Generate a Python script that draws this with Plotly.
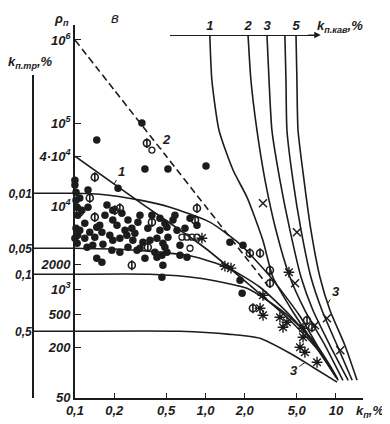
import math
import plotly.graph_objects as go

INK = "#1c1c1c"

# ---------------- axis / tick data ----------------
k_ticks = [0.1, 0.2, 0.5, 1.0, 2.0, 5.0, 10]
k_ticktext = ["0,1", "0,2", "0,5", "1,0", "2,0", "5,0", "10"]
rho_ticks = [1e6, 1e5, 4e4, 1e4, 2000, 1000, 500, 200, 50]
rho_ticktext = ["10<sup>6</sup>", "10<sup>5</sup>", "4·10<sup>4</sup>", "10<sup>4</sup>",
                "2000", "10<sup>3</sup>", "500", "200", "50"]
ktr_ticktext = ["0,01", "0,05", "0,1", "0,5"]
ktr_rho = [14300, 3110, 1514, 311]          # rho level of each k_tr curve
kav_ticktext = ["1", "2", "3", "5"]
ktr_lead_k = [0.0476, 0.1]                  # stub between k_tr scale and rho axis

# ---------------- k_tr curves ----------------
tr001_k = [0.1, 0.155, 0.315, 0.535, 1.08, 1.84, 3.12, 5.30, 7.54, 10.0]
tr001_r = [14300, 13900, 11800, 9710, 6410, 3480, 1430, 472, 184, 87]
tr005_k = [0.1, 0.221, 0.448, 0.79, 1.46, 2.62, 4.44, 6.90, 9.83]
tr005_r = [3110, 3030, 2790, 2490, 1840, 1055, 485, 211, 92]
tr01_k = [0.1, 0.376, 0.907, 2.08, 2.96, 4.44, 6.66, 8.99, 10.2]
tr01_r = [1514, 1514, 1355, 1026, 736, 459, 243, 121, 85]
tr05_k = [0.1, 0.638, 1.54, 2.62, 4.44, 6.66, 10.2]
tr05_r = [311, 311, 286, 256, 169, 115, 76]

# ---------------- lines 1 and 2 ----------------
line1_k = [0.1, 0.315, 1.0, 2.19, 4.44, 7.54, 10.2]
line1_r = [40000, 11100, 3110, 1115, 423, 174, 85]
line2_k = [0.1, 0.2, 0.5, 1.0, 2.0, 3.0]
line2_r = [1e6, 2.5e5, 4e4, 1e4, 2500, 1110]

# ---------------- k_p.kav curves ----------------
kav_r = [1.15e6, 3.3e5, 8.2e4, 2.06e4, 5130, 1390, 557, 211, 80]
kav1_k = [1.08, 1.12, 1.27, 1.63, 2.08, 2.75, 3.29, 4.60, 6.90, 10.4]
kav1_r = [1.15e6, 3.3e5, 8.2e4, 2.7e4, 1.28e4, 3900, 1390, 557, 211, 80]
kav2_k = [2.12, 2.23, 2.48, 2.86, 3.47, 4.44, 5.78, 8.24, 11.3]
kav3_k = [2.96, 3.07, 3.23, 3.72, 4.44, 5.40, 6.66, 8.99, 12.4]
kav4_k = [4.06, 4.14, 4.21, 4.68, 5.40, 6.43, 7.81, 10.2, 13.3]
kav5_k = [4.94, 5.02, 5.12, 5.69, 6.43, 7.54, 8.99, 11.7, 14.5]

# ---------------- measured samples ----------------
filled_k = [0.147, 0.326, 0.344, 0.516, 1.01, 0.214, 0.100, 0.100, 0.126, 0.102, 0.109, 0.176,
            0.126, 0.104, 0.113, 0.195, 0.229, 0.315, 0.389, 0.448, 0.119, 0.147, 0.161, 0.195,
            0.210, 0.255, 0.273, 0.304, 0.362, 0.448, 0.507, 0.100, 0.105, 0.119, 0.185, 0.195,
            0.221, 0.250, 0.278, 0.332, 0.425, 0.472, 0.516, 0.104, 0.124, 0.137, 0.164, 0.192,
            0.221, 0.255, 0.299, 0.410, 0.464, 0.507, 0.147, 0.161, 0.344, 0.425, 0.472, 0.464,
            0.564, 0.584, 0.489, 0.861, 0.606, 0.489, 0.638, 0.638, 0.722, 1.54, 1.94, 1.84,
            1.91, 0.102, 0.105, 0.102, 0.109, 0.130, 0.142, 0.155, 0.170, 0.242, 0.288, 0.376,
            0.315, 0.697, 0.762]
filled_r = [62300, 100000, 27900, 27900, 30300, 16400, 20500, 17900, 15600, 14700, 12500, 10300,
            9700, 9700, 8930, 8930, 8220, 7780, 7780, 7160, 6230, 5570, 4850, 6780,
            5890, 6780, 5420, 6410, 5420, 5130, 5570, 4110, 4470, 4110, 4470, 3890,
            4110, 4470, 3890, 3680, 4110, 3580, 4230, 3580, 3200, 3380, 3480, 2940,
            2790, 3200, 2940, 2790, 2560, 2790, 2360, 2110, 2360, 2430, 1940, 1390,
            6780, 7780, 6230, 5890, 5130, 3200, 3380, 2560, 2430, 3680, 3380, 1280,
            893, 11800, 7780, 5420, 5130, 4850, 4230, 5890, 7780, 5130, 4720, 3890,
            3110, 5420, 7160]
half_k = [0.356, 0.142, 0.130, 0.202, 0.109, 0.142, 0.273, 0.861, 0.832, 0.221, 0.389, 0.362,
          2.19, 2.62, 3.12, 3.12, 2.31, 6.00, 6.55]
half_r = [57300, 22300, 12500, 8930, 8450, 7360, 1940, 9440, 6780, 9440, 6410, 3200,
          2710, 2710, 1690, 1180, 589, 423, 348]
open_k = [0.389, 0.661, 0.722, 0.790, 0.861, 0.762]
open_r = [47200, 4230, 4230, 4230, 4230, 3110]
star_k = [0.940, 1.41, 1.57, 4.36, 2.76, 2.62, 2.76, 3.72, 4.21, 3.93, 5.59, 5.59, 5.30, 5.78, 7.16]
star_r = [4110, 1890, 1790, 1600, 845, 589, 485, 459, 400, 348, 338, 264, 200, 174, 132]
cross_k = [2.76, 5.02, 4.86, 6.90, 8.53, 10.8]
cross_r = [10800, 4850, 1180, 368, 447, 184]

fig = go.Figure()


def curve(xs, ys, dash=None, xaxis="x"):
    fig.add_trace(go.Scatter(x=xs, y=ys, mode="lines", xaxis=xaxis, yaxis="y",
                             line=dict(color=INK, width=1.6, dash=dash, shape="spline",
                                       smoothing=0.6),
                             hoverinfo="skip"))


# stubs from the k_tr scale to the rho axis
for lvl in ktr_rho:
    fig.add_trace(go.Scatter(x=ktr_lead_k, y=[lvl, lvl], mode="lines", xaxis="x3", yaxis="y",
                             line=dict(color=INK, width=1.6), hoverinfo="skip"))

for xs, ys in [(tr001_k, tr001_r), (tr005_k, tr005_r), (tr01_k, tr01_r), (tr05_k, tr05_r),
               (line1_k, line1_r), (kav1_k, kav1_r), (kav2_k, kav_r), (kav3_k, kav_r),
               (kav4_k, kav_r), (kav5_k, kav_r)]:
    curve(xs, ys)
curve(line2_k, line2_r, dash="7px,4px")

mk = dict(mode="markers", cliponaxis=False, hoverinfo="skip")
fig.add_trace(go.Scatter(x=filled_k, y=filled_r, marker=dict(symbol="circle", size=7.5, color=INK), **mk))
fig.add_trace(go.Scatter(x=half_k, y=half_r,
                         marker=dict(symbol="circle-open", size=7, color=INK, line=dict(width=1.6)), **mk))
fig.add_trace(go.Scatter(x=half_k, y=half_r,
                         marker=dict(symbol="line-ns-open", size=7, color=INK, line=dict(width=1.6)), **mk))
fig.add_trace(go.Scatter(x=open_k, y=open_r,
                         marker=dict(symbol="circle-open", size=6, color=INK, line=dict(width=1.3)), **mk))
fig.add_trace(go.Scatter(x=star_k, y=star_r,
                         marker=dict(symbol="asterisk-open", size=9, color=INK, line=dict(width=1.4)), **mk))
fig.add_trace(go.Scatter(x=star_k, y=star_r, marker=dict(symbol="circle", size=4, color=INK), **mk))
fig.add_trace(go.Scatter(x=cross_k, y=cross_r,
                         marker=dict(symbol="x-thin-open", size=8, color=INK, line=dict(width=1.5)), **mk))

# empty traces so the auxiliary axes get their own subplots
fig.add_trace(go.Scatter(x=[], y=[], xaxis="x2", yaxis="y"))
fig.add_trace(go.Scatter(x=[], y=[], xaxis="x", yaxis="y2"))

FONT = "Liberation Sans, Arial, sans-serif"
tfont = dict(family=FONT, size=13, color=INK, style="italic", weight="bold")
common = dict(showgrid=False, zeroline=False, linecolor=INK, tickcolor=INK, automargin=False)

# the page body adds an 8 px offset, so the figure is 8 px smaller and margins shifted
fig.update_layout(
    width=382, height=416, margin=dict(l=25, r=27, t=17, b=26, autoexpand=False),
    paper_bgcolor="white", plot_bgcolor="rgba(0,0,0,0)", showlegend=False,
    xaxis=dict(type="log", domain=[0.127, 1], range=[-1, 1.207], anchor="y",
               showline=True, linewidth=1.6, ticks="inside", ticklen=5, tickwidth=1.3,
               tickvals=k_ticks, ticktext=k_ticktext, tickfont=tfont, **common),
    xaxis2=dict(type="log", domain=[0.415, 0.861], range=[-0.272, 0.854], anchor="free",
                position=0.973, side="top", showline=True, linewidth=1.4, ticks="",
                tickvals=[kav1_k[0], kav2_k[0], kav3_k[0], kav5_k[0]], ticktext=kav_ticktext,
                tickfont=tfont, **common),
    xaxis3=dict(type="log", domain=[0, 0.127], range=[-1.322, -1], anchor="y", visible=False),
    yaxis=dict(type="log", domain=[0, 1], range=[1.69, 6.18], anchor="x",
               showline=True, linewidth=1.6, ticks="inside", ticklen=6, tickwidth=1.3,
               tickvals=rho_ticks, ticktext=rho_ticktext, tickfont=tfont, **common),
    yaxis2=dict(type="log", domain=[0, 0.866], range=[1.69, 5.582], anchor="free", position=0,
                side="left", showline=True, linewidth=1.6, ticks="", ticklabelstandoff=-2,
                tickvals=ktr_rho, ticktext=ktr_ticktext,
                tickfont=dict(family=FONT, size=12, color=INK, style="italic", weight="bold"),
                **common),
)

afont = dict(family=FONT, size=13, color=INK, style="italic", weight="bold")
notes = [
    dict(x=0.248, y=1.021, text="в", font=dict(family=FONT, size=15, color=INK, style="italic")),
    dict(x=0.085, y=1.015, text="ρ<sub>п</sub>", font=afont),
    dict(x=-0.009, y=0.90, text="k<sub>п.тр</sub>,%", font=afont),
    dict(x=1.021, y=-0.035, text="k<sub>п</sub>,%", font=afont),
    dict(x=0.93, y=0.995, text="k<sub>п.кав</sub>,%", font=afont),
]
for n in notes:
    fig.add_annotation(xref="paper", yref="paper", showarrow=False,
                       xanchor="center", yanchor="middle", **n)

# arrow head on the k_p.kav scale
fig.add_annotation(xref="paper", yref="paper", x=0.872, y=0.973, ax=-14, ay=0, text="",
                   showarrow=True, arrowhead=2, arrowsize=1, arrowwidth=1.3, arrowcolor=INK)

# curve labels with short leaders
labels = [("1", 0.2, 18400, 7, -13), ("2", 0.455, 48300, 6, -10),
          ("3", 8.65, 678, 8, -12), ("3", 5.78, 131, -11, 8)]
for t, kx, ry, ax, ay in labels:
    fig.add_annotation(xref="x", yref="y", x=math.log10(kx), y=math.log10(ry), text=t,
                       showarrow=True, arrowhead=0, arrowwidth=1, arrowcolor=INK,
                       ax=ax, ay=ay, standoff=0, font=afont)

fig.write_html("out.html")
